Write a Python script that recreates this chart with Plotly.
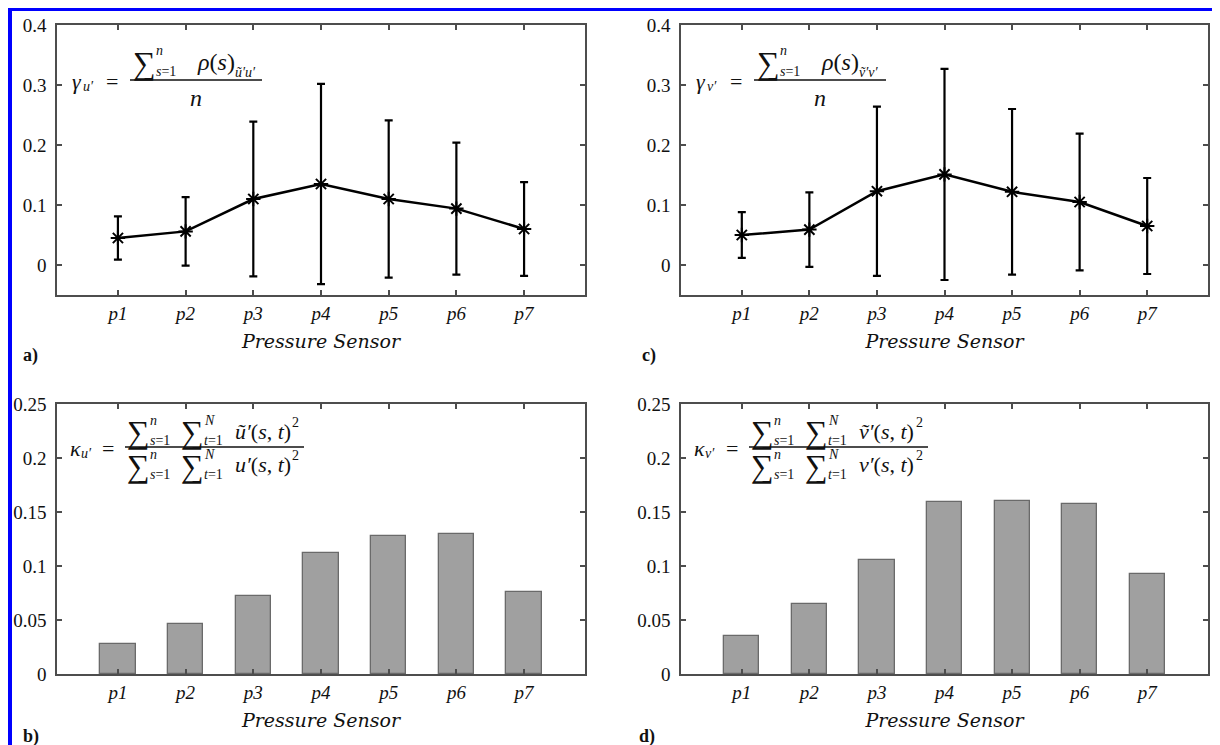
import plotly.graph_objects as go

# ---------------- data ----------------
sensors = ["p1", "p2", "p3", "p4", "p5", "p6", "p7"]
sensor_labels = ["<i>p1</i>", "<i>p2</i>", "<i>p3</i>", "<i>p4</i>", "<i>p5</i>", "<i>p6</i>", "<i>p7</i>"]

gamma_u_mean = [0.045, 0.056, 0.110, 0.135, 0.110, 0.094, 0.060]
gamma_u_std = [0.036, 0.057, 0.129, 0.167, 0.131, 0.110, 0.078]

gamma_v_mean = [0.050, 0.059, 0.123, 0.151, 0.122, 0.105, 0.065]
gamma_v_std = [0.038, 0.062, 0.141, 0.176, 0.138, 0.114, 0.080]

kappa_u = [0.028, 0.046, 0.072, 0.112, 0.128, 0.130, 0.076]
kappa_v = [0.035, 0.065, 0.106, 0.159, 0.160, 0.157, 0.093]

gamma_ticks = [0, 0.1, 0.2, 0.3, 0.4]
gamma_ticktext = ["0", "0.1", "0.2", "0.3", "0.4"]
kappa_ticks = [0, 0.05, 0.1, 0.15, 0.2, 0.25]
kappa_ticktext = ["0", "0.05", "0.1", "0.15", "0.2", "0.25"]

x_title = "Pressure Sensor"

# ---------------- style ----------------
W, H = 1220, 745
OFF = 8  # the page shows the figure shifted by the body margin
SERIF = "Liberation Serif, Times New Roman, serif"
TITLE_FONT = "DejaVu Serif, serif"
TXT = "#111111"
AX = "#4d4d4d"


def px(x):
    return (x - OFF) / W


def py(y):
    return 1 - (y - OFF) / H


# panel boxes in page pixels: left, right, top, bottom
boxes = {
    "a": (57, 585, 25, 295),
    "c": (681, 1208, 25, 295),
    "b": (57, 585, 404, 674),
    "d": (681, 1208, 404, 674),
}

fig = go.Figure()

# line + error bar panels
for xa, ya, m, s in (("x", "y", gamma_u_mean, gamma_u_std), ("x3", "y3", gamma_v_mean, gamma_v_std)):
    fig.add_trace(go.Scatter(
        x=sensors, y=m, mode="lines+markers",
        line=dict(color="black", width=2.5),
        marker=dict(symbol="asterisk-open", size=12, color="black", line=dict(color="black", width=2)),
        error_y=dict(type="data", array=s, visible=True, color="black", thickness=2.2, width=4),
        xaxis=xa, yaxis=ya, showlegend=False))

# bar panels
for xa, ya, v in (("x2", "y2", kappa_u), ("x4", "y4", kappa_v)):
    fig.add_trace(go.Bar(
        x=sensors, y=v, width=0.52,
        marker=dict(color="#a0a0a0", line=dict(color="#6a6a6a", width=1.3)),
        xaxis=xa, yaxis=ya, showlegend=False))


def xax(box, anchor):
    l, r, t, b = box
    return dict(
        domain=[px(l), px(r)], anchor=anchor, range=[-0.9, 6.9], automargin=False,
        tickmode="array", tickvals=sensors, ticktext=sensor_labels,
        showline=True, mirror="ticks", linecolor=AX, linewidth=1.5,
        ticks="inside", ticklen=5, tickwidth=1.5, tickcolor=AX,
        ticklabelstandoff=0,
        tickfont=dict(family=SERIF, size=19, color=TXT),
        showgrid=False, zeroline=False,
        title=dict(text="<i>" + x_title + "</i>", standoff=12,
                   font=dict(family=TITLE_FONT, size=19, color=TXT)),
    )


def yax(box, anchor, rng, tv, tt):
    l, r, t, b = box
    return dict(
        domain=[py(b), py(t)], anchor=anchor, range=rng, automargin=False,
        tickmode="array", tickvals=tv, ticktext=tt,
        showline=True, mirror="ticks", linecolor=AX, linewidth=1.5,
        ticks="inside", ticklen=5, tickwidth=1.5, tickcolor=AX,
        ticklabelstandoff=5,
        tickfont=dict(family=SERIF, size=19, color=TXT),
        showgrid=False, zeroline=False,
    )


fig.update_layout(
    width=W, height=H, margin=dict(l=0, r=0, t=0, b=0, autoexpand=False),
    font=dict(family=SERIF, color=TXT),
    paper_bgcolor="white", plot_bgcolor="white",
    xaxis=xax(boxes["a"], "y"),
    yaxis=yax(boxes["a"], "x", [-0.05, 0.4], gamma_ticks, gamma_ticktext),
    xaxis2=xax(boxes["b"], "y2"),
    yaxis2=yax(boxes["b"], "x2", [0, 0.25], kappa_ticks, kappa_ticktext),
    xaxis3=xax(boxes["c"], "y3"),
    yaxis3=yax(boxes["c"], "x3", [-0.05, 0.4], gamma_ticks, gamma_ticktext),
    xaxis4=xax(boxes["d"], "y4"),
    yaxis4=yax(boxes["d"], "x4", [0, 0.25], kappa_ticks, kappa_ticktext),
    bargap=0,
)

annotations = []
shapes = []


def T(x, y, text, size=20, xanchor="left", yanchor="middle", family=SERIF):
    annotations.append(dict(
        x=px(x), y=py(y), xref="paper", yref="paper", text=text,
        showarrow=False, xanchor=xanchor, yanchor=yanchor,
        font=dict(family=family, size=size, color=TXT)))


def hline(x0, x1, y, width=1.3):
    shapes.append(dict(type="line", xref="paper", yref="paper",
                       x0=px(x0), x1=px(x1), y0=py(y), y1=py(y),
                       line=dict(color=TXT, width=width)))


def sigma(x, yc, up, low, size=32):
    T(x, yc + 1, "∑", size=size)
    T(x + 23, yc - 11, up, size=14)
    T(x + 23, yc + 9, low, size=14)


# gamma formulas (panels a and c)
for key, var, sub in (("a", "u", "ũ′u′"), ("c", "v", "ṽ′v′")):
    l = boxes[key][0]
    T(l + 13, 81, "<i>γ</i>", size=22)
    T(l + 24, 86, "<i>" + var + "′</i>", size=14)
    T(l + 47, 81, "=", size=22)
    hline(l + 73, l + 205, 80)
    sigma(l + 74, 62, "<i>n</i>", "<i>s</i>=1")
    T(l + 138, 62, "<i>ρ</i>(<i>s</i>)", size=24)
    T(l + 176, 73, "<i>" + sub + "</i>", size=14)
    T(l + 139, 98, "<i>n</i>", size=24, xanchor="center")

# kappa formulas (panels b and d)
for key, var, tvar in (("b", "u", "ũ"), ("d", "v", "ṽ")):
    l = boxes[key][0]
    T(l + 11, 448, "<i>κ</i>", size=22)
    T(l + 22, 453, "<i>" + var + "′</i>", size=14)
    T(l + 43, 448, "=", size=22)
    hline(l + 68, l + 247, 447)
    for yc, v in ((431, tvar), (465, var)):
        sigma(l + 68, yc, "<i>n</i>", "<i>s</i>=1")
        sigma(l + 122, yc, "<i>N</i>", "<i>t</i>=1")
        T(l + 176, yc, "<i>" + v + "′</i>(<i>s</i>, <i>t</i>)", size=22)
        T(l + 233, yc - 9, "2", size=14)

# panel letters
T(21, 355, "<b>a)</b>", size=18)
T(640, 355, "<b>c)</b>", size=18)
T(21, 736, "<b>b)</b>", size=18)
T(637, 736, "<b>d)</b>", size=18)

# blue frame
shapes.append(dict(type="rect", xref="paper", yref="paper",
                   x0=px(9.5), x1=px(1217), y0=-0.1, y1=py(8.5),
                   line=dict(color="#0000ff", width=5)))

fig.update_layout(annotations=annotations, shapes=shapes)
fig.write_html("out.html")
